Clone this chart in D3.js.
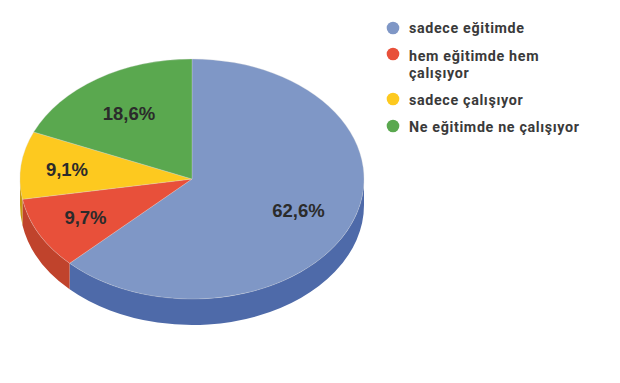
<!DOCTYPE html>
<html><head><meta charset="utf-8">
<script src="https://cdn.jsdelivr.net/npm/d3@7"></script>
<style>html,body{margin:0;padding:0;background:#fff}svg{display:block}</style></head>
<body><svg id="c" width="620" height="383"></svg>
<script>
const categories = ["sadece eğitimde","hem eğitimde hem\nçalışıyor","sadece çalışıyor","Ne eğitimde ne çalışıyor"];
const values = [62.6,9.7,9.1,18.6];
const labels = ["62,6%","9,7%","9,1%","18,6%"];
const topColors = ["#7f97c6","#e8503a","#fdc91f","#5aa84f"];
const sideColors = ["#4e6aa9","#c0432c","#c79a12","#468a3e"];
const labelPos = [[298.5,210],[85.5,217],[67,169],[129,113]];
const legendY = [[28],[56,73],[100],[127]];
const dotY = [28,54,99,126];

const svg = d3.select("#c");
const cx=192, cy=179, rx=172, ry=120, depth=26;
const pie = d3.pie().sort(null).value(d=>d)(values);

function px(a){return cx+rx*Math.sin(a);}
function py(a){return cy-ry*Math.cos(a);}

// side walls
pie.forEach((d,i)=>{
  const a0=Math.max(d.startAngle,Math.PI/2), a1=Math.min(d.endAngle,Math.PI*1.5);
  if(a1<=a0) return;
  const p=`M${px(a0)},${py(a0)}A${rx},${ry} 0 0 1 ${px(a1)},${py(a1)}`+
          `L${px(a1)},${py(a1)+depth}A${rx},${ry} 0 0 0 ${px(a0)},${py(a0)+depth}Z`;
  svg.append("path").attr("d",p).attr("fill",sideColors[i]);
});

// top face
const arc=d3.arc().innerRadius(0).outerRadius(rx);
svg.append("g").attr("transform",`translate(${cx},${cy}) scale(1,${ry/rx})`)
  .selectAll("path").data(pie).join("path")
  .attr("d",arc).attr("fill",(d,i)=>topColors[i])
  .attr("stroke","#d8d8d8").attr("stroke-width",0.6).attr("stroke-opacity",0.6);

// value labels
svg.append("g").selectAll("text").data(labels).join("text")
  .attr("x",(d,i)=>labelPos[i][0]).attr("y",(d,i)=>labelPos[i][1])
  .attr("text-anchor","middle").attr("dominant-baseline","central")
  .attr("font-family","Liberation Sans, Arial, sans-serif").attr("font-weight","bold")
  .attr("font-size",18.5).attr("fill","#2b2b2b").text(d=>d);

// legend
const lg=svg.append("g");
categories.forEach((c,i)=>{
  lg.append("circle").attr("cx",393).attr("cy",dotY[i]).attr("r",6.3).attr("fill",topColors[i]);
  c.split("\n").forEach((line,j)=>{
    lg.append("text").attr("x",409).attr("y",legendY[i][j]).attr("dominant-baseline","central")
      .attr("font-family","Roboto, Liberation Sans, sans-serif").attr("font-weight","bold")
      .attr("font-size",14.3).attr("letter-spacing",0.65).attr("fill","#3a3a3a").text(line);
  });
});
</script></body></html>
